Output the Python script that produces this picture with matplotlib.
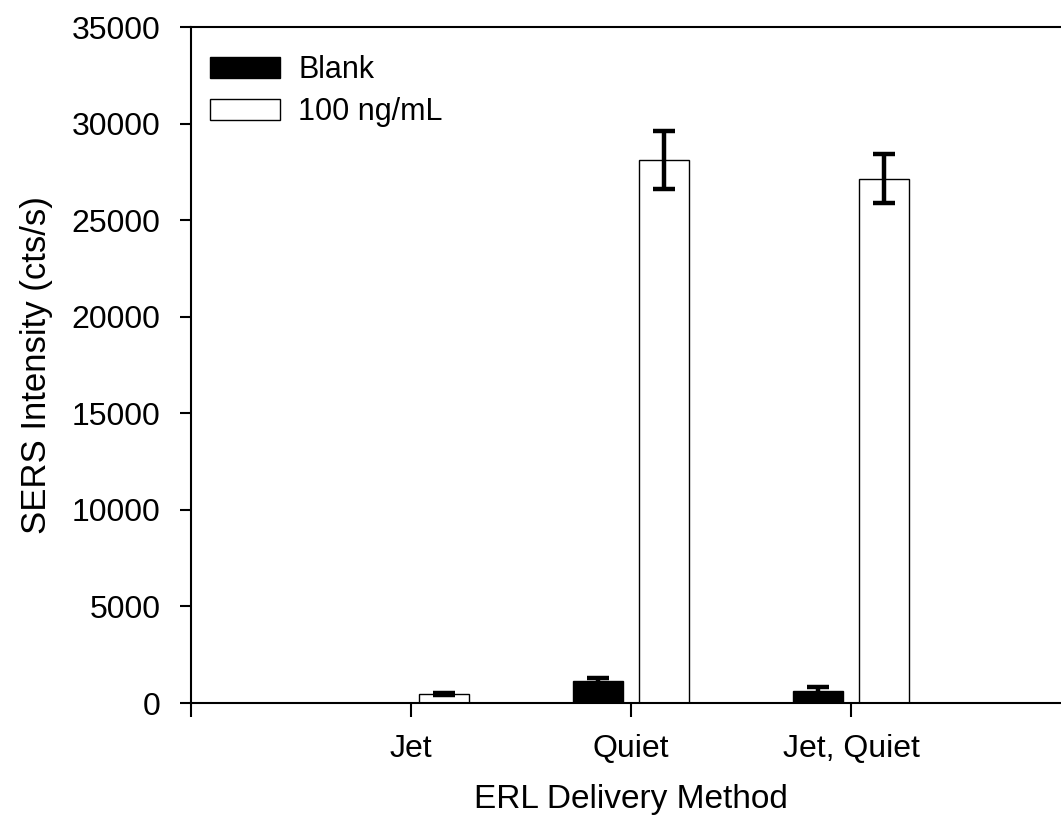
import numpy as np
import matplotlib
matplotlib.use("Agg")
import matplotlib.pyplot as plt

plt.rcParams['font.family'] = ['Liberation Sans', 'DejaVu Sans']

# SERS signal for each ERL delivery method
methods = ['Jet', 'Quiet', 'Jet, Quiet']
blank = [0, 1120, 650]
blank_err = [np.nan, 200, 160]
conc_100 = [480, 28100, 27150]
conc_100_err = [40, 1500, 1250]
yticks = [0, 5000, 10000, 15000, 20000, 25000, 30000, 35000]

fig = plt.figure(figsize=(10.61, 8.36), dpi=100)
ax = fig.add_axes([0.180, 0.159, 0.8294, 0.8087])

x = np.arange(1, len(methods) + 1)
w = 0.227
off = 0.15
err_kw = dict(ecolor='black', elinewidth=3.2, capsize=8, capthick=3.2)

ax.bar(x - off, blank, w, color='black', edgecolor='black', linewidth=1,
       label='Blank')
ax.bar(x + off, conc_100, w, color='white', edgecolor='black', linewidth=1,
       label='100 ng/mL')
ax.errorbar(x - off, blank, yerr=blank_err, fmt='none', **err_kw)
ax.errorbar(x + off, conc_100, yerr=conc_100_err, fmt='none', **err_kw)

ax.set_xlim(0, 4)
ax.set_ylim(0, 35000)
ax.set_xticks([0, 1, 2, 3, 4])
ax.set_xticklabels([''] + methods + [''])
ax.set_yticks(yticks)
ax.tick_params(axis='both', direction='out', width=1.5, labelsize=23)
ax.tick_params(axis='x', length=10, pad=12)
ax.tick_params(axis='y', length=8, pad=14)
for s in ax.spines.values():
    s.set_linewidth(1.5)

ax.set_xlabel('ERL Delivery Method', fontsize=24, labelpad=15)
ax.set_ylabel('SERS Intensity (cts/s)', fontsize=25, labelpad=13)

ax.legend(loc='upper left', frameon=False, fontsize=22, handlelength=2.3,
          handleheight=0.65, labelspacing=0.4, handletextpad=0.6,
          borderaxespad=0.3, bbox_to_anchor=(-0.003, 0.99))

fig.savefig('out.png', dpi=100)
